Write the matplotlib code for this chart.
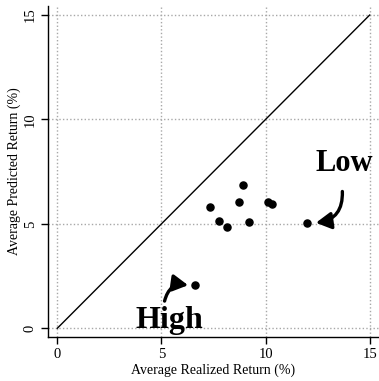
import matplotlib
matplotlib.use("Agg")
import matplotlib.pyplot as plt
from matplotlib.patches import FancyArrowPatch

realized = [7.35, 7.75, 8.16, 8.71, 8.91, 9.20, 10.14, 10.32, 12.00, 6.63]
predicted = [5.83, 5.14, 4.87, 6.06, 6.84, 5.07, 6.06, 5.93, 5.03, 2.06]
ticks = [0, 5, 10, 15]

plt.rcParams['font.family'] = ['Liberation Serif', 'DejaVu Serif']

fig = plt.figure(figsize=(3.79, 3.81), dpi=100)
ax = fig.add_axes([0.1266, 0.1155, 0.8734, 0.8685])
ax.set_xlim(-0.45, 15.45)
ax.set_ylim(-0.42, 15.43)

for t in ticks:
    ax.axvline(t, color='#a8a8a8', lw=1.0, ls=(0, (1, 1.6)), zorder=0)
    ax.axhline(t, color='#a8a8a8', lw=1.0, ls=(0, (1, 1.6)), zorder=0)

ax.plot([0, 15], [0, 15], color='black', lw=1.0)
ax.scatter(realized, predicted, s=26, color='black', zorder=3)

ax.text(13.8, 7.9, 'Low', fontsize=22, fontweight='bold', ha='center', va='center')
ax.text(5.4, 0.35, 'High', fontsize=23, fontweight='bold', ha='center', va='center')

a1 = FancyArrowPatch((13.69, 6.55), (12.42, 5.05), connectionstyle='arc3,rad=-0.45',
                     arrowstyle='-|>,head_length=6.5,head_width=3.6', lw=2.4, color='black',
                     mutation_scale=1.4, shrinkA=0, shrinkB=0)
ax.add_patch(a1)
a2 = FancyArrowPatch((5.15, 1.30), (6.28, 2.06), connectionstyle='arc3,rad=-0.45',
                     arrowstyle='-|>,head_length=6.5,head_width=3.6', lw=2.4, color='black',
                     mutation_scale=1.4, shrinkA=0, shrinkB=0)
ax.add_patch(a2)

ax.spines['top'].set_visible(False)
ax.spines['right'].set_visible(False)
ax.spines['left'].set_linewidth(1.0)
ax.spines['bottom'].set_linewidth(1.0)
ax.set_xticks(ticks)
ax.set_yticks(ticks)
ax.set_xticklabels([str(t) for t in ticks])
ax.set_yticklabels([str(t) for t in ticks], rotation=90, va='center')
ax.tick_params(direction='out', length=5, width=1, labelsize=10.5, pad=3)
ax.set_xlabel('Average Realized Return (%)', fontsize=10, labelpad=1.5)
ax.set_ylabel('Average Predicted Return (%)', fontsize=10, labelpad=2)

fig.savefig('out.png', dpi=100)
